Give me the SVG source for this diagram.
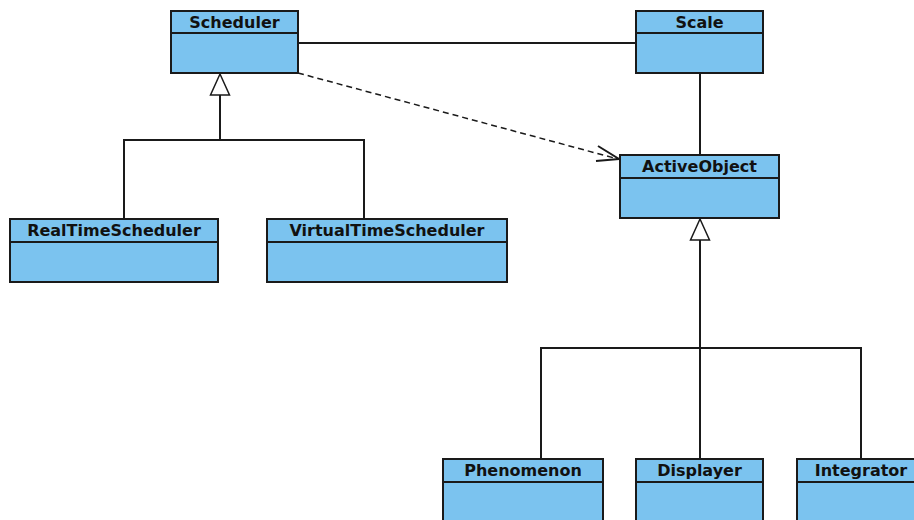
<svg xmlns="http://www.w3.org/2000/svg" width="914" height="520" viewBox="0 0 914 520">
<defs>
<style>
.box{fill:#7bc3ef;stroke:#1a1a1a;stroke-width:2}
.sep{stroke:#1a1a1a;stroke-width:2}
.t{font-family:"DejaVu Sans",sans-serif;font-weight:bold;font-size:16px;fill:#111;text-anchor:middle}
.c{fill:none;stroke:#1a1a1a;stroke-width:2}
.d{fill:none;stroke:#1a1a1a;stroke-width:1.5;stroke-dasharray:6,4}
.tri{fill:#fff;stroke:#1a1a1a;stroke-width:1.5}
</style>
</defs>
<rect width="914" height="520" fill="#fff"/>
<g id="connectors">
<line class="c" x1="298" y1="43" x2="636" y2="43"/>
<line class="c" x1="700" y1="73" x2="700" y2="155"/>
<path class="d" d="M298,73 L618,159"/>
<path class="c" stroke-width="1.5" d="M598,146 L619,159 L596,161"/>
<path class="c" d="M220,95 V140 M124,219 V140 H364 V219"/>
<polygon class="tri" points="220,74 210.5,95 229.5,95"/>
<path class="c" d="M700,240 V348 M541,459 V348 H861 V459 M700,348 V459"/>
<polygon class="tri" points="700,219 690.5,240 709.5,240"/>
</g>
<g id="Scheduler">
<rect class="box" x="171" y="11" width="127" height="62"/>
<line class="sep" x1="171" y1="33" x2="298" y2="33"/>
<text class="t" x="234.5" y="28">Scheduler</text>
</g>
<g id="Scale">
<rect class="box" x="636" y="11" width="127" height="62"/>
<line class="sep" x1="636" y1="33" x2="763" y2="33"/>
<text class="t" x="699.5" y="28">Scale</text>
</g>
<g id="ActiveObject">
<rect class="box" x="620" y="155" width="159" height="63"/>
<line class="sep" x1="620" y1="178" x2="779" y2="178"/>
<text class="t" x="699.5" y="172">ActiveObject</text>
</g>
<g id="RealTimeScheduler">
<rect class="box" x="10" y="219" width="208" height="63"/>
<line class="sep" x1="10" y1="242" x2="218" y2="242"/>
<text class="t" x="114" y="236">RealTimeScheduler</text>
</g>
<g id="VirtualTimeScheduler">
<rect class="box" x="267" y="219" width="240" height="63"/>
<line class="sep" x1="267" y1="242" x2="507" y2="242"/>
<text class="t" x="387" y="236">VirtualTimeScheduler</text>
</g>
<g id="Phenomenon">
<rect class="box" x="443" y="459" width="160" height="70"/>
<line class="sep" x1="443" y1="482" x2="603" y2="482"/>
<text class="t" x="523" y="476">Phenomenon</text>
</g>
<g id="Displayer">
<rect class="box" x="636" y="459" width="127" height="70"/>
<line class="sep" x1="636" y1="482" x2="763" y2="482"/>
<text class="t" x="699.5" y="476">Displayer</text>
</g>
<g id="Integrator">
<rect class="box" x="797" y="459" width="130" height="70"/>
<line class="sep" x1="797" y1="482" x2="927" y2="482"/>
<text class="t" x="861" y="476">Integrator</text>
</g>
</svg>
